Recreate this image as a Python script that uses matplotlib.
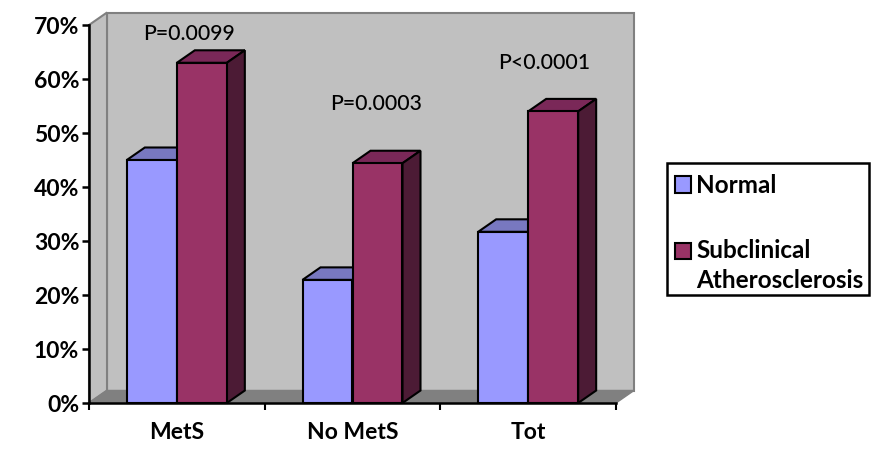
import matplotlib
matplotlib.use('Agg')
import matplotlib.pyplot as plt
from matplotlib.patches import Patch, Rectangle

categories = ['MetS', 'No MetS', 'Tot']
normal = [45, 22.8, 31.7]
subclinical = [63, 44.4, 54]
p_labels = ['P=0.0099', 'P=0.0003', 'P<0.0001']
y_ticks = [0, 10, 20, 30, 40, 50, 60, 70]
series_names = ['Normal', 'Subclinical\nAtherosclerosis']

plt.rcParams['font.family'] = ['Lato', 'DejaVu Sans']

W, H = 894, 461
fig = plt.figure(figsize=(W / 100, H / 100), dpi=100)
ax = fig.add_axes([89 / W, 1 - 403 / H, (616 - 89) / W, (403 - 25) / H])
ax.set_xlim(-0.5, 2.5)
ax.set_ylim(0, 70)
ax.patch.set_visible(False)

# depth of the fake 3d box, in data units
dx = 18 / 175.67
dy = 12.5 / 5.4
bw = 50 / 175.67


def poly(xs, ys, color, edge='none', lw=0, z=1):
    ax.fill(xs, ys, facecolor=color, edgecolor=edge, linewidth=lw, zorder=z, clip_on=False)


# walls and floor
wall = '#C0C0C0'
poly([-0.5 + dx, 2.5 + dx, 2.5 + dx, -0.5 + dx], [dy, dy, 70 + dy, 70 + dy], wall, '#808080', 1.5)
poly([-0.5, -0.5 + dx, -0.5 + dx, -0.5], [0, dy, 70 + dy, 70], wall, '#808080', 1.5)
poly([-0.5, 2.5, 2.5 + dx, -0.5 + dx], [0, 0, dy, dy], '#808080', '#808080', 1)

edge = 'black'
lw = 1.5
for i, (a, b) in enumerate(zip(normal, subclinical)):
    # blue bar
    x0 = i - bw
    poly([x0, x0 + dx, x0 + bw + dx, x0 + bw], [a, a + dy, a + dy, a], '#7878C0', edge, lw, 3)
    ax.bar(x0, a, bw, align='edge', color='#9999FF', edgecolor=edge, linewidth=lw, zorder=3, clip_on=False)
    # red bar
    x1 = i
    poly([x1, x1 + dx, x1 + bw + dx, x1 + bw], [b, b + dy, b + dy, b], '#7A2858', edge, lw, 4)
    poly([x1 + bw, x1 + bw + dx, x1 + bw + dx, x1 + bw], [0, dy, b + dy, b], '#4C1B35', edge, lw, 4)
    ax.bar(x1, b, bw, align='edge', color='#993366', edgecolor=edge, linewidth=lw, zorder=4, clip_on=False)

for s in ['top', 'right']:
    ax.spines[s].set_visible(False)
for s in ['left', 'bottom']:
    ax.spines[s].set_linewidth(1.8)
    ax.spines[s].set_zorder(6)

ax.set_yticks(y_ticks)
ax.set_yticklabels([str(v) + '%' for v in y_ticks], fontsize=16.5, fontweight='bold')
ax.tick_params(axis='y', length=5, width=1.8, pad=2)
ax.set_xticks(range(len(categories)))
ax.set_xticklabels(categories, fontsize=16.5, fontweight='bold')
ax.tick_params(axis='x', which='major', length=0, pad=14)
ax.set_xticks([-0.5, 0.5, 1.5, 2.5], minor=True)
ax.tick_params(axis='x', which='minor', length=5, width=1.5)

ax.text(0.07, 68.3, p_labels[0], fontsize=15.3, fontweight='medium', ha='center', va='center', zorder=7)
ax.text(1.135, 55.4, p_labels[1], fontsize=15.3, fontweight='medium', ha='center', va='center', zorder=7)
ax.text(2.09, 63, p_labels[2], fontsize=15.3, fontweight='medium', ha='center', va='center', zorder=7)

# legend box drawn apart, the text sits lower in it than a normal legend allows
fig.add_artist(Rectangle((667 / W, 1 - 295 / H), (869 - 667) / W, (295 - 163) / H,
                         transform=fig.transFigure, facecolor='white', edgecolor='black', linewidth=1.8))

handles = [Patch(facecolor='#9999FF', edgecolor='black', linewidth=1.5),
           Patch(facecolor='#993366', edgecolor='black', linewidth=1.5)]
leg = fig.legend(handles, series_names, loc='upper left',
                 bbox_to_anchor=(667 / W, 1 - 166 / H), bbox_transform=fig.transFigure,
                 prop={'family': 'Lato', 'weight': 'bold', 'size': 17.5},
                 frameon=False, labelspacing=1.74, handlelength=0.65, handleheight=0.65,
                 handletextpad=0.22, borderpad=0.33, borderaxespad=0)
leg.get_texts()[1].set_linespacing(1.35)
# second swatch lines up with the first text line
swatch = leg.legend_handles[1]
swatch.set_y(swatch.get_y() + 11)

fig.savefig('out.png', dpi=100)
